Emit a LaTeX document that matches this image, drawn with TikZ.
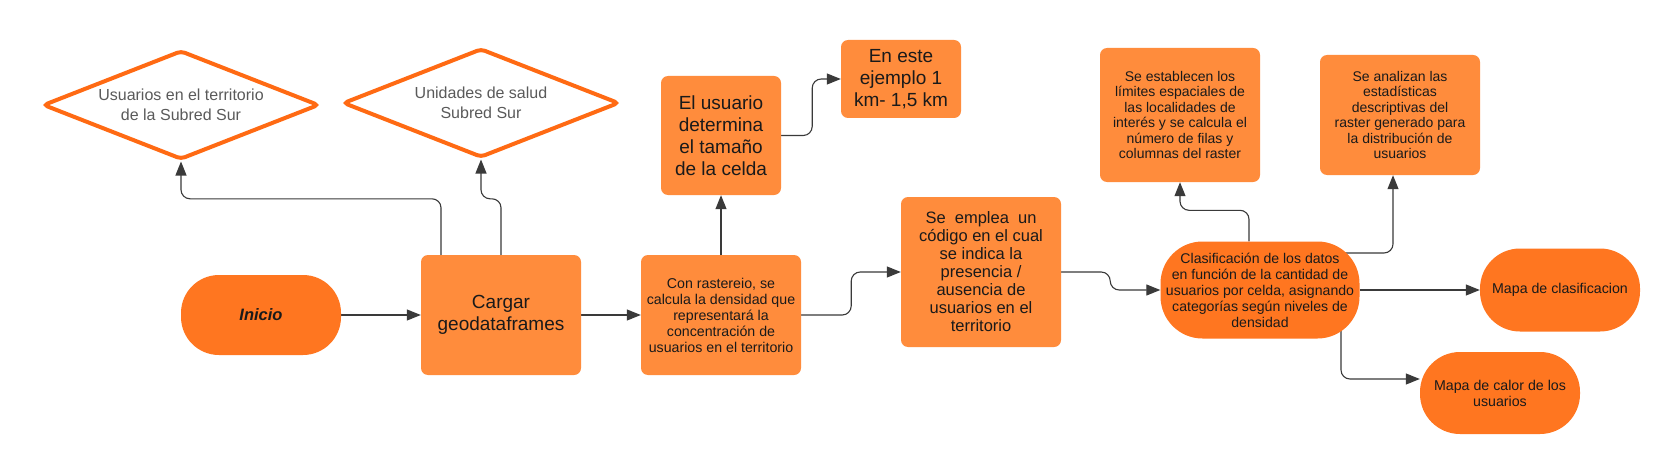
\documentclass[tikz,border=0pt]{standalone}
\usepackage{fontspec}
\setmainfont{Liberation Sans}
\usetikzlibrary{arrows.meta,shapes.geometric,backgrounds}
\definecolor{boxor}{HTML}{FF8C3C}
\definecolor{darkor}{HTML}{FF7620}
\definecolor{edgeor}{HTML}{FF6A13}
\definecolor{linec}{HTML}{3A3A3A}
\definecolor{txt}{HTML}{1A1A1A}
\definecolor{dtxt}{HTML}{5A5A5A}
\begin{document}
\begin{tikzpicture}[x=1pt,y=-1pt,
 box/.style={rectangle, rounded corners=7pt, fill=boxor, text=txt, align=center, inner sep=0pt},
 pill/.style={rectangle, fill=darkor, text=txt, align=center, inner sep=0pt},
 dia/.style={diamond, draw=edgeor, line width=4pt, fill=white, rounded corners=4pt, aspect=2.5, inner sep=0pt, text=dtxt, align=center, font=\fontsize{16}{20}\selectfont, minimum width=276pt, minimum height=109pt},
 conn/.style={draw=linec, line width=1.1pt, rounded corners=9pt, -{Triangle[length=14pt,width=11pt]}},
]
\useasboundingbox (0,0) rectangle (1680,468);

\node[dia] (d1) at (181,105) {Usuarios en el territorio\\de la Subred Sur};
\node[dia] (d2) at (481,103) {Unidades de salud\\Subred Sur};

\node[pill, minimum width=160pt, minimum height=80pt, rounded corners=38pt, font=\fontsize{16.5}{20}\selectfont\bfseries\itshape] (inicio) at (261,315) {Inicio};

\node[box, minimum width=160pt, minimum height=120pt, font=\fontsize{19}{22}\selectfont] (cargar) at (501,315) {Cargar\\geodataframes};

\node[box, minimum width=160pt, minimum height=120pt, font=\fontsize{14.2}{16}\selectfont] (raster) at (721,315) {Con rastereio, se\\calcula la densidad que\\representará la\\concentración de\\usuarios en el territorio};

\node[box, minimum width=120pt, minimum height=119pt, font=\fontsize{19}{22}\selectfont] (usuario) at (721,135.5) {El usuario\\determina\\el tamaño\\de la celda};

\node[box, minimum width=120pt, minimum height=78pt, font=\fontsize{19}{22}\selectfont] (ejemplo) at (901,79) {En este\\ejemplo 1\\km- 1,5 km};

\node[box, minimum width=160pt, minimum height=150pt, font=\fontsize{16.5}{18}\selectfont] (emplea) at (981,272) {Se~~emplea~~un\\código en el cual\\se indica la\\presencia /\\ausencia de\\usuarios en el\\territorio};

\node[pill, minimum width=199pt, minimum height=97pt, rounded corners=42pt, font=\fontsize{14.1}{16}\selectfont] (clasif) at (1260,290) {Clasificación de los datos\\en función de la cantidad de\\usuarios por celda, asignando\\categorías según niveles de\\densidad};

\node[box, minimum width=160pt, minimum height=134pt, font=\fontsize{14}{15.5}\selectfont] (establecen) at (1180,115) {Se establecen los\\límites espaciales de\\las localidades de\\interés y se calcula el\\número de filas y\\columnas del raster};

\node[box, minimum width=160pt, minimum height=120pt, font=\fontsize{14}{15.5}\selectfont] (analizan) at (1400,115) {Se analizan las\\estadísticas\\descriptivas del\\raster generado para\\la distribución de\\usuarios};

\node[pill, minimum width=160pt, minimum height=83pt, rounded corners=40pt, font=\fontsize{14.2}{16}\selectfont] (mapaclas) at (1560,290) {Mapa de clasificacion};

\node[pill, minimum width=160pt, minimum height=82pt, rounded corners=40pt, font=\fontsize{14.2}{16}\selectfont] (mapacalor) at (1500,393) {Mapa de calor de los\\usuarios};

\begin{scope}[on background layer]
\fill[white] (0,0) rectangle (1680,468);
\draw[conn] (inicio.east) -- (cargar.west);
\draw[conn] ([xshift=-60pt]cargar.north) -- ++(0pt,56pt) -| (d1.south);
\draw[conn] (cargar.north) -- ++(0pt,56pt) -| (d2.south);
\draw[conn] (cargar.east) -- (raster.west);
\draw[conn] (raster.north) -- (usuario.south);
\draw[conn] (usuario.east) -- ++(31pt,0pt) |- (ejemplo.west);
\draw[conn] (raster.east) -- ++(50pt,0pt) |- (emplea.west);
\draw[conn] (emplea.east) -- ++(49pt,0pt) |- (clasif.west);
\draw[conn] ([xshift=-11pt]clasif.north) -- ++(0pt,31pt) -| (establecen.south);
\draw[conn] ([yshift=37pt]clasif.center) -| ([xshift=-7pt]analizan.south);
\draw[conn] (clasif.east) -- (mapaclas.west);
\draw[conn] ([xshift=81pt]clasif.center) |- ([yshift=14pt]mapacalor.west);
\end{scope}
\end{tikzpicture}
\end{document}
